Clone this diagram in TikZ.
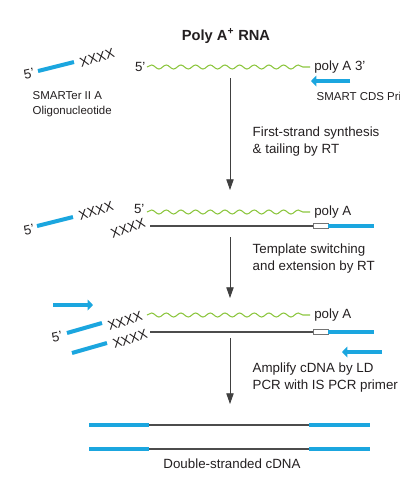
\documentclass[tikz,border=0pt]{standalone}
\usepackage{fontspec}
\setmainfont{Liberation Sans}
\usetikzlibrary{arrows.meta,decorations.pathmorphing}

\definecolor{dnablue}{HTML}{1BA6DF}
\definecolor{rnagreen}{HTML}{8CC63F}
\definecolor{inkgray}{HTML}{231F20}

\tikzset{
  adapter/.style={line width=3pt, dnablue},
  primer/.style={line width=3pt, dnablue, -{Triangle[length=4pt,width=8pt]}},
  rna/.style={rnagreen, line width=0.8pt, decorate,
    decoration={snake, segment length=11pt, amplitude=1.5pt}},
  cdna/.style={line width=0.9pt, black!70},
  tailbox/.style={draw=black!55, fill=white, line width=0.6pt},
  flow/.style={black!75, line width=0.6pt, -{Triangle[length=8pt,width=5.5pt]}},
  tag/.style={inner sep=0pt},
  steptext/.style={anchor=west, align=left, font=\fontsize{10}{12.75}\selectfont},
  smalltext/.style={anchor=west, font=\fontsize{8.6}{12}\selectfont}
}

\begin{document}
\begin{tikzpicture}[x=0.75pt,y=-0.75pt, text=inkgray, font=\fontsize{10}{12}\selectfont]

\useasboundingbox (0,0) rectangle (400,487);

\node[font=\bfseries\fontsize{11}{13}\selectfont] (title) at (226,36) {Poly A\textsuperscript{+} RNA};

% row 1: oligo, mRNA and CDS primer
\coordinate (oligoA) at (38,71);
\coordinate (oligoB) at (74,62);
\draw[adapter] (oligoA) -- (oligoB);
\node[rotate=12, tag] (fiveA) at (29,74) {5'};
\node[rotate=17, tag] (tagA) at (97,58) {XXXX};
\node[smalltext] (oligoname) at (28,96) {SMARTer II A};
\node[smalltext] (oligoname2) at (28,112) {Oligonucleotide};

\coordinate (rnaA) at (147,67);
\coordinate (rnaB) at (310,67);
\draw[rna] (rnaA) -- (rnaB);
\node[anchor=east, inner sep=1pt] (rnafiveA) at (rnaA) {5'};
\node[anchor=west, inner sep=3pt] (polyA1) at (rnaB) {poly A 3'};

\coordinate (cdsA) at (350,81);
\coordinate (cdsB) at (311,81);
\draw[primer] (cdsA) -- (cdsB);
\node[smalltext] (cdsname) at (312,96) {SMART CDS Primer};

% first arrow
\coordinate (flowA) at (230,78);
\coordinate (flowB) at (230,190);
\draw[flow] (flowA) -- (flowB);
\node[steptext] (stepA) at (248,141.5) {First-strand synthesis\\\& tailing by RT};

% row 2: tailed first strand
\coordinate (oligoC) at (37,226);
\coordinate (oligoD) at (73,217);
\draw[adapter] (oligoC) -- (oligoD);
\node[rotate=12, tag] (fiveB) at (29,230) {5'};
\node[rotate=17, tag] (tagB) at (96,211) {XXXX};

\coordinate (rnaC) at (147,212);
\coordinate (rnaD) at (310,212);
\draw[rna] (rnaC) -- (rnaD);
\node[anchor=east, inner sep=1pt] (rnafiveB) at (146,209) {5'};
\node[anchor=west, inner sep=3pt] (polyA2) at (rnaD) {poly A};

\node[rotate=19, tag] (tagC) at (128,228) {XXXX};
\coordinate (cdnaA) at (150,226);
\coordinate (cdnaB) at (313,226);
\coordinate (cdnaC) at (374,226);
\draw[cdna] (cdnaA) -- (cdnaB);
\draw[tailbox] (313,223.5) rectangle (328,228.5);
\draw[adapter] (328,226) -- (cdnaC);

% second arrow
\coordinate (flowC) at (230,237);
\coordinate (flowD) at (230,298);
\draw[flow] (flowC) -- (flowD);
\node[steptext] (stepB) at (248,258.5) {Template switching\\and extension by RT};

% row 3: template switching and primers
\coordinate (fwdA) at (53,305);
\coordinate (fwdB) at (93,305);
\draw[primer] (fwdA) -- (fwdB);

\coordinate (oligoE) at (67,333);
\coordinate (oligoF) at (102,323);
\draw[adapter] (oligoE) -- (oligoF);
\node[rotate=12, tag] (fiveC) at (57,337) {5'};
\node[rotate=18, tag] (tagD) at (125,321) {XXXX};

\coordinate (oligoG) at (72,353);
\coordinate (oligoH) at (107,343);
\draw[adapter] (oligoG) -- (oligoH);
\node[rotate=18, tag] (tagE) at (130,339) {XXXX};

\coordinate (rnaE) at (147,315);
\coordinate (rnaF) at (310,315);
\draw[rna] (rnaE) -- (rnaF);
\node[anchor=west, inner sep=3pt] (polyA3) at (rnaF) {poly A};

\coordinate (cdnaD) at (150,332);
\coordinate (cdnaE) at (313,332);
\coordinate (cdnaF) at (374,332);
\draw[cdna] (cdnaD) -- (cdnaE);
\draw[tailbox] (313,329.5) rectangle (328,334.5);
\draw[adapter] (328,332) -- (cdnaF);

\coordinate (revA) at (382,352);
\coordinate (revB) at (342,352);
\draw[primer] (revA) -- (revB);

% third arrow
\coordinate (flowE) at (230,338);
\coordinate (flowF) at (230,404);
\draw[flow] (flowE) -- (flowF);
\node[steptext] (stepC) at (248,378) {Amplify cDNA by LD\\PCR with IS PCR primer};

% row 4: ds cDNA
\draw[adapter] (89,425) -- (149,425);
\draw[cdna] (149,425) -- (309,425);
\draw[adapter] (309,425) -- (370,425);
\draw[adapter] (89,449) -- (149,449);
\draw[cdna] (149,449) -- (309,449);
\draw[adapter] (309,449) -- (370,449);
\node (dsname) at (232,464) {Double-stranded cDNA};

\end{tikzpicture}
\end{document}
